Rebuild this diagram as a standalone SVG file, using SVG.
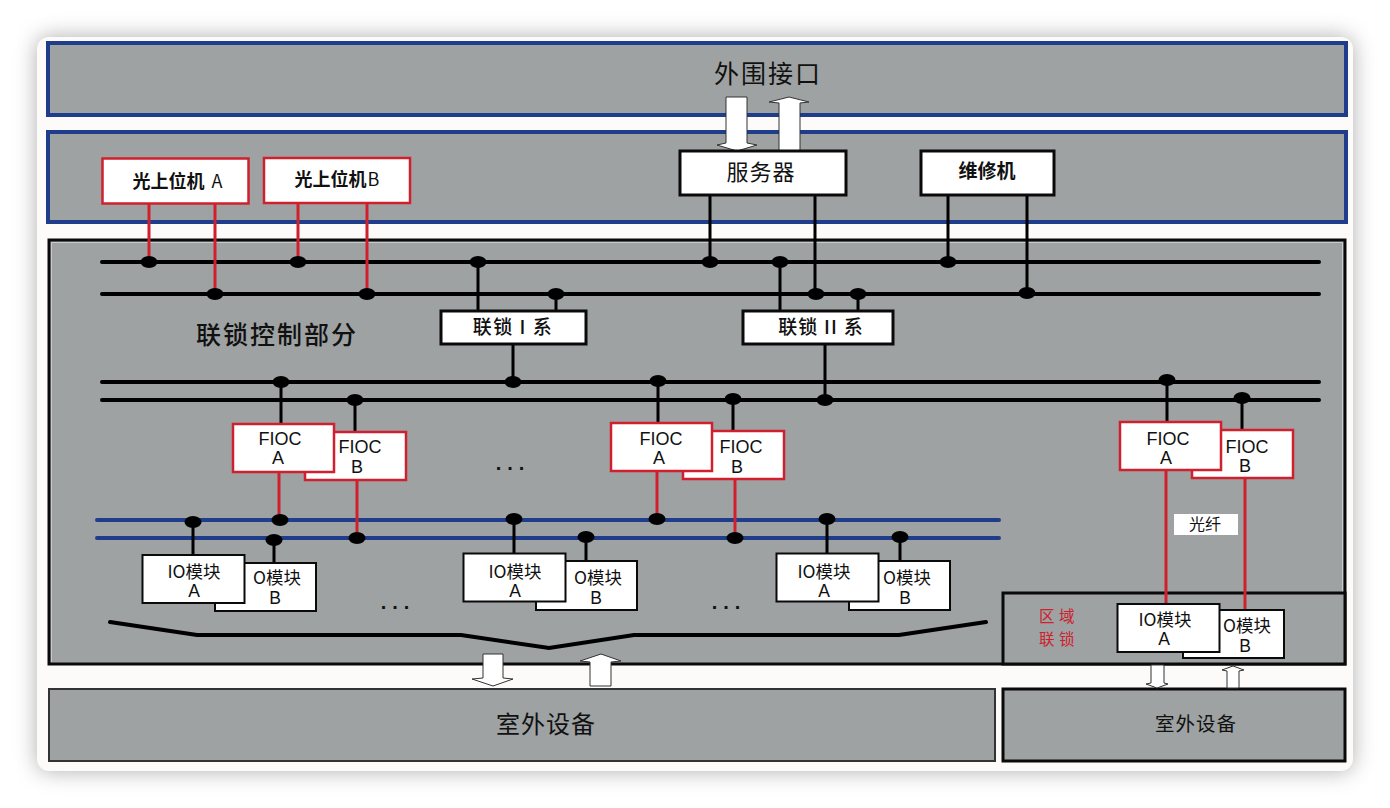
<svg xmlns="http://www.w3.org/2000/svg" width="1390" height="808" viewBox="0 0 1390 808">
<style>
text{font-family:"Liberation Sans","Noto Sans CJK SC",sans-serif;fill:#111;text-anchor:middle}
.cjk{font-family:"Noto Sans CJK SC","Liberation Sans",sans-serif}
.blue{stroke:#1f3d8a;stroke-width:4;fill:#9ea2a3}
.blk{stroke:#0a0a0a;stroke-width:3;fill:#9ea2a3}
.rb{fill:#fff;stroke:#d0202e;stroke-width:2.5}
.wb{fill:#fff;stroke:#0a0a0a;stroke-width:3}
.wt{fill:#fff;stroke:#0a0a0a;stroke-width:2}
.bus{stroke:#000;stroke-width:4;stroke-linecap:round;fill:none}
.bb{stroke:#1f3d8a;stroke-width:4;stroke-linecap:round;fill:none}
.bl{stroke:#000;stroke-width:3;fill:none}
.rd{stroke:#d0202e;stroke-width:3;fill:none}
.ar{fill:#fff;stroke:#333;stroke-width:1}
.f{font-size:18px}.m{font-size:17.500px}.b{font-weight:700}
.dots{font-size:20px;font-weight:700;letter-spacing:6px}
.zone{font-size:15.500px;letter-spacing:4.500px;fill:#d0202e}
</style>
<defs>
<filter id="sh" x="-5%" y="-8%" width="110%" height="116%"><feGaussianBlur stdDeviation="11"/></filter>
<ellipse id="d" rx="8.500" ry="6" fill="#000"/>
</defs>
<rect width="1390" height="808" fill="#fff"/>
<rect x="37" y="37" width="1316" height="734" rx="12" fill="#777" opacity=".6" filter="url(#sh)"/>
<rect x="37" y="37" width="1316" height="734" rx="12" fill="#fcfbfa"/>

<g id="panel-outer"><rect class="blue" x="48" y="43" width="1298" height="72"/></g>
<g id="panel-upper"><rect class="blue" x="48" y="132" width="1298" height="90"/></g>
<g id="panel-interlock"><rect class="blk" x="49" y="240" width="1296" height="424"/><path d="M51.500 662V242.500H1342.500V592" fill="none" stroke="#c9cbcb" stroke-width="1"/></g>
<g id="panel-outdoor-1"><rect class="blk" style="stroke-width:2;stroke:#333" x="49" y="689" width="946" height="72"/></g>
<g id="panel-outdoor-2"><rect class="blk" x="1003" y="689" width="342" height="72"/></g>
<g id="panel-zone"><rect class="blk" x="1003" y="593" width="342" height="71"/></g>

<g id="connectors">
<path class="bus" d="M102 262H1319M102 294H1319M102 382H1319M102 400H1319"/>
<path class="bb" d="M97 520H999M97 538H999"/>
<path class="rd" d="M149 203V262M215 203V294M298 203V262M367 203V294"/>
<path class="bl" d="M710 195V262M815 195V294M948 195V262M1027 195V294M478 262V312M556 294V312M780 262V312M858 294V312M513 344V382M825 344V400"/>
<path class="bl" d="M281 382V425M355 400V433M658 382V424M733 400V432M1167 380V422M1242 398V431M193 522V556M274 540V564M514 519V554M586 537V562M827 519V554M900 537V562"/>
<path class="rd" d="M279 472V520M357 480V538M657 471V519M735 479V538M1166 470V605M1245 478V611"/>
<path d="M110 622L197 635H461L549 648L634 635H899L986 622" fill="none" stroke="#000" stroke-width="4" stroke-linecap="round"/>
<g id="junctions">
<use href="#d" x="149" y="262"/><use href="#d" x="215" y="294"/><use href="#d" x="298" y="262"/><use href="#d" x="367" y="294"/><use href="#d" x="478" y="262"/><use href="#d" x="556" y="294"/><use href="#d" x="710" y="262"/><use href="#d" x="780" y="262"/><use href="#d" x="816" y="294"/><use href="#d" x="858" y="294"/><use href="#d" x="948" y="262"/><use href="#d" x="1027" y="293"/>
<use href="#d" x="281" y="382"/><use href="#d" x="355" y="400"/><use href="#d" x="513" y="382"/><use href="#d" x="658" y="381"/><use href="#d" x="733" y="399"/><use href="#d" x="825" y="400"/><use href="#d" x="1167" y="380"/><use href="#d" x="1242" y="398"/>
<use href="#d" x="193" y="522"/><use href="#d" x="280" y="520"/><use href="#d" x="274" y="540"/><use href="#d" x="357" y="538"/><use href="#d" x="514" y="519"/><use href="#d" x="586" y="537"/><use href="#d" x="657" y="519"/><use href="#d" x="735" y="538"/><use href="#d" x="827" y="519"/><use href="#d" x="900" y="537"/>
</g>
<path class="ar" d="M726 97H747V143L757 145L737 151L717 145L726 143Z"/>
<path class="ar" d="M779 151V103L769 102L789 97L809 102L800 103V151Z"/>
<path class="ar" d="M483 654H503V678L513 679L493 686L472 679L483 678Z"/>
<path class="ar" d="M590 686V662L580 661L601 654L621 661L611 662V686Z"/>
<path class="ar" d="M1151 665H1164V683L1168 684L1157 688L1146 684L1151 683Z"/>
<path class="ar" d="M1227 688V671L1222 670L1233 666L1244 670L1239 671V688Z"/>
</g>

<g id="title-outer"><text class="cjk" x="768" y="83" font-size="25" letter-spacing="2">外围接口</text></g>
<g id="node-pc-a"><rect class="rb" x="102.500" y="158.500" width="146" height="45"/><text class="cjk b" x="177.500" y="188" font-size="18">光上位机 <tspan font-weight="400" dx="3">A</tspan></text></g>
<g id="node-pc-b"><rect class="rb" x="264" y="158" width="146" height="45"/><text class="cjk b" x="337" y="186" font-size="18">光上位机<tspan font-weight="400" dx="1">B</tspan></text></g>
<g id="node-server"><rect class="wb" x="680" y="151" width="166" height="44"/><text class="cjk" x="761" y="180" font-size="22" letter-spacing="1">服务器</text></g>
<g id="node-maint"><rect class="wb" x="921" y="151" width="133" height="44"/><text class="cjk b" x="987" y="178" font-size="19">维修机</text></g>
<g id="label-interlock"><text class="cjk" x="277" y="344" font-size="25" letter-spacing="2" font-weight="500">联锁控制部分</text></g>
<g id="node-sys1"><rect class="wb" x="441" y="311" width="145" height="33"/><text class="cjk" x="513" y="334" font-size="19" letter-spacing="1.500" font-weight="500">联锁 I 系</text></g>
<g id="node-sys2"><rect class="wb" x="743" y="311" width="150" height="33"/><text class="cjk" x="821" y="334" font-size="19" letter-spacing="1.200" font-weight="500">联锁 II 系</text></g>

<g id="node-fioc-b1"><rect class="rb" x="305" y="432" width="101" height="48"/><text class="f" x="360" y="453">FIOC</text><text class="f" x="357" y="473">B</text></g>
<g id="node-fioc-a1"><rect class="rb" x="233" y="424" width="101" height="48"/><text class="f" x="280" y="445">FIOC</text><text class="f" x="278" y="464">A</text></g>
<g id="node-fioc-b2"><rect class="rb" x="683" y="431" width="101" height="48"/><text class="f" x="741" y="453">FIOC</text><text class="f" x="737" y="473">B</text></g>
<g id="node-fioc-a2"><rect class="rb" x="611" y="423" width="101" height="48"/><text class="f" x="661" y="445">FIOC</text><text class="f" x="659" y="464">A</text></g>
<g id="node-fioc-b3"><rect class="rb" x="1192" y="430" width="101" height="48"/><text class="f" x="1247" y="453">FIOC</text><text class="f" x="1245" y="472">B</text></g>
<g id="node-fioc-a3"><rect class="rb" x="1120" y="422" width="101" height="48"/><text class="f" x="1168" y="445">FIOC</text><text class="f" x="1166" y="464">A</text></g>
<g id="label-fiber"><rect x="1174" y="514" width="64" height="21" fill="#fff"/><text class="cjk" x="1205" y="530" font-size="16">光纤</text></g>

<g id="node-io-b1"><rect class="wt" x="215" y="563" width="101" height="48"/><text class="cjk m" x="277" y="584">O模块</text><text class="m" x="275" y="604">B</text></g>
<g id="node-io-a1"><rect class="wt" x="142.500" y="555" width="102" height="48"/><text class="cjk m" x="194" y="578">IO模块</text><text class="m" x="194" y="597">A</text></g>
<g id="node-io-b2"><rect class="wt" x="536" y="561" width="101" height="49"/><text class="cjk m" x="598" y="584">O模块</text><text class="m" x="596" y="604">B</text></g>
<g id="node-io-a2"><rect class="wt" x="463.500" y="553.500" width="102" height="48"/><text class="cjk m" x="515" y="578">IO模块</text><text class="m" x="515" y="597">A</text></g>
<g id="node-io-b3"><rect class="wt" x="849" y="561" width="101" height="49"/><text class="cjk m" x="907" y="584">O模块</text><text class="m" x="905" y="604">B</text></g>
<g id="node-io-a3"><rect class="wt" x="776.500" y="553.500" width="102" height="48"/><text class="cjk m" x="824" y="578">IO模块</text><text class="m" x="824" y="597">A</text></g>
<g id="node-io-b4"><rect class="wt" x="1183" y="610" width="101" height="48"/><text class="cjk m" x="1247" y="632">O模块</text><text class="m" x="1245" y="652">B</text></g>
<g id="node-io-a4"><rect class="wt" x="1117.500" y="604" width="102" height="48"/><text class="cjk m" x="1165" y="626">IO模块</text><text class="m" x="1164" y="645">A</text></g>

<g id="label-zone"><text class="cjk zone" x="1059" y="622">区域</text><text class="cjk zone" x="1059" y="645">联锁</text></g>
<g id="ellipses">
<text class="dots" x="513" y="470">...</text><text class="dots" x="398" y="609">...</text><text class="dots" x="729" y="609">...</text>
</g>
<g id="label-out1"><text class="cjk" x="546" y="733" font-size="24" letter-spacing="1">室外设备</text></g>
<g id="label-out2"><text class="cjk" x="1196" y="731" font-size="19.500" letter-spacing="1">室外设备</text></g>
</svg>
